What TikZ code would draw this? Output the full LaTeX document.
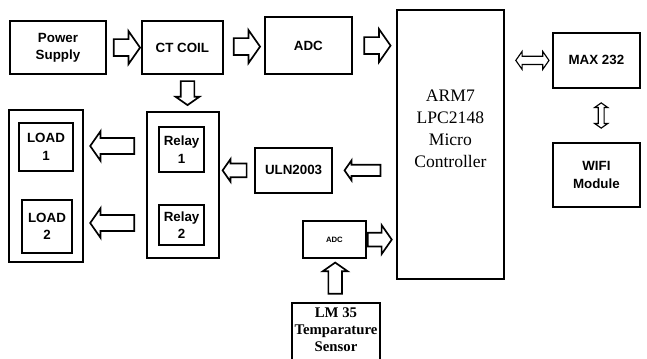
\documentclass[tikz,border=0pt]{standalone}
\usepackage{fontspec}
\setmainfont{Liberation Serif}
\setsansfont{Liberation Sans}
\usetikzlibrary{calc,shapes.arrows}

\tikzset{
  blk/.style={draw, line width=1.3pt, align=center, inner sep=1pt,
    font=\sffamily\bfseries\fontsize{9.5}{12.5}\selectfont},
  % length, half shaft, head extend
  blkarrow/.style n args={3}{single arrow, draw, line width=1.2pt,
    inner xsep=0pt, inner ysep=#2, minimum height=#1,
    single arrow head extend=#3, single arrow tip angle=110},
  dblarrow/.style n args={3}{double arrow, draw, line width=0.8pt,
    inner xsep=0pt, inner ysep=#2, minimum height=#1,
    double arrow head extend=#3, double arrow tip angle=110}
}

\begin{document}
\begin{tikzpicture}
    \useasboundingbox (0,0) rectangle (16.175,-8.95);

    % top row
    \node[blk, minimum width=2.4cm, minimum height=1.33cm] (ps) at (1.45,-1.19) {Power\\Supply};
    \node[blk, minimum width=2.03cm, minimum height=1.33cm] (ct) at (4.56,-1.19) {CT COIL};
    \node[blk, minimum width=2.18cm, minimum height=1.43cm] (adc) at (7.71,-1.14) {ADC};
    \node[draw, line width=1.3pt, minimum width=2.68cm, minimum height=6.73cm,
      label={[anchor=north, label distance=0pt, yshift=-1.9cm, align=center,
        font=\rmfamily\fontsize{12.5}{15.6}\selectfont]north:{ARM7\\LPC2148\\Micro\\Controller}}]
      (arm) at (11.26,-3.61) {};
    \node[blk, minimum width=2.18cm, minimum height=1.38cm] (max) at (14.91,-1.51) {MAX 232};
    \node[blk, minimum width=2.18cm, minimum height=1.6cm] (wifi) at (14.91,-4.375) {WIFI\\Module};

    % loads and relays
    \node[draw, line width=1.3pt, minimum width=1.85cm, minimum height=3.8cm] (loads) at (1.15,-4.65) {};
    \node[blk, minimum width=1.35cm, minimum height=1.2cm] (load1) at (1.15,-3.675) {LOAD\\1};
    \node[blk, minimum width=1.25cm, minimum height=1.33cm] (load2) at (1.175,-5.66) {LOAD\\2};
    \node[draw, line width=1.3pt, minimum width=1.8cm, minimum height=3.65cm] (relays) at (4.575,-4.625) {};
    \node[blk, minimum width=1.13cm, minimum height=1.13cm] (relay1) at (4.54,-3.74) {Relay\\1};
    \node[blk, minimum width=1.13cm, minimum height=1.0cm] (relay2) at (4.54,-5.625) {Relay\\2};
    \node[blk, minimum width=1.93cm, minimum height=1.13cm] (uln) at (7.34,-4.26) {ULN2003};

    % temperature path
    \node[blk, minimum width=1.58cm, minimum height=0.93cm,
      font=\sffamily\bfseries\fontsize{5.5}{6}\selectfont] (adcs) at (8.36,-5.99) {ADC};
    \node[draw, line width=1.3pt, minimum width=2.2cm, minimum height=1.7cm, anchor=north,
      label={[anchor=north, label distance=0pt, yshift=-0.02cm, align=center,
        font=\rmfamily\bfseries\fontsize{10.5}{12}\selectfont]north:{LM 35\\Temparature\\Sensor}}]
      (lm) at (8.4,-7.55) {};

    % block arrows
    \node[blkarrow={0.66cm}{0.19cm}{0.2cm}] (a1) at ($(ps.east)!0.5!(ct.west)$) {};
    \node[blkarrow={0.66cm}{0.19cm}{0.2cm}] (a2) at ($(ct.east)!0.5!(adc.west)$) {};
    \node[blkarrow={0.66cm}{0.19cm}{0.2cm}] (a3) at ($(adc.east)!0.5!(adc.east -| arm.west)$) {};
    \node[blkarrow={0.6cm}{0.15cm}{0.13cm}, rotate=-90] (a4) at ($(ct.south)!0.5!(relays.north)+(0.12,0.06)$) {};
    \node[blkarrow={1.1cm}{0.18cm}{0.17cm}, rotate=180] (a5) at ($(relays.west |- relay1)!0.5!(loads.east |- relay1)+(0,0.09)$) {};
    \node[blkarrow={1.1cm}{0.18cm}{0.17cm}, rotate=180] (a6) at ($(relays.west |- relay2)!0.5!(loads.east |- relay2)+(0,0.05)$) {};
    \node[blkarrow={0.6cm}{0.15cm}{0.11cm}, rotate=180] (a7) at ($(uln.west)!0.5!(uln.west -| relays.east)$) {};
    \node[blkarrow={0.9cm}{0.12cm}{0.11cm}, rotate=180] (a8) at ($(uln.east)!0.5!(uln.east -| arm.west)$) {};
    \node[blkarrow={0.6cm}{0.15cm}{0.19cm}, anchor=tail] (a9) at (adcs.east) {};
    \node[blkarrow={0.78cm}{0.15cm}{0.14cm}, rotate=90] (a10) at ($(lm.north)!0.5!(adcs.south)$) {};

    % two-way arrows
    \node[dblarrow={0.83cm}{0.09cm}{0.12cm}] (d1) at ($(max.west)!0.5!(max.west -| arm.east)+(0.1,0)$) {};
    \node[dblarrow={0.63cm}{0.06cm}{0.09cm}, rotate=90] (d2) at ($(max.south)!0.5!(wifi.north)+(0.12,0)$) {};
\end{tikzpicture}
\end{document}
